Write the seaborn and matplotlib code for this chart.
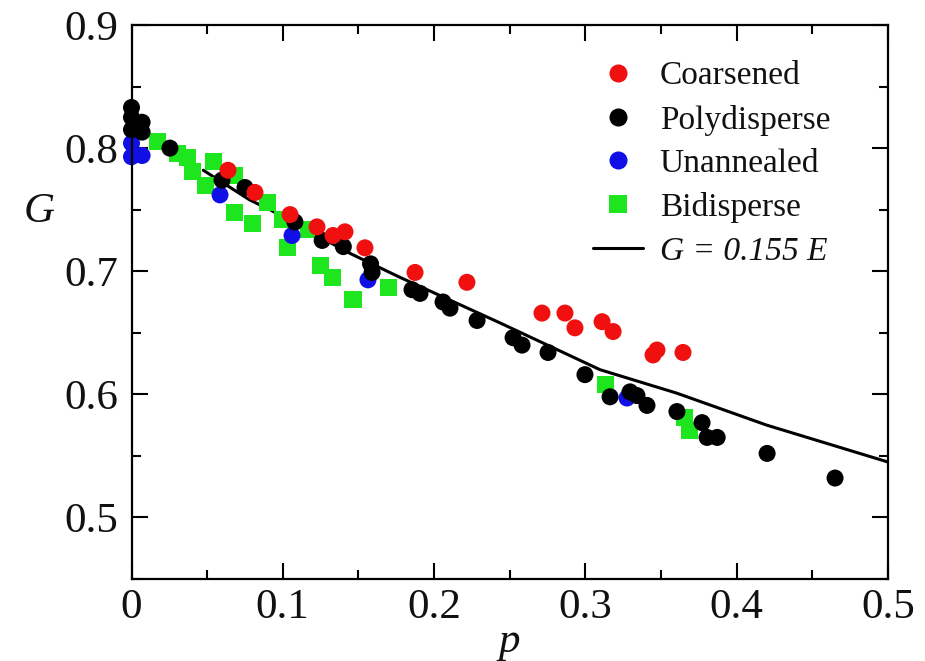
import matplotlib
matplotlib.use("Agg")
import matplotlib.pyplot as plt
import pandas as pd
import seaborn as sns
from matplotlib.lines import Line2D
from matplotlib.ticker import MultipleLocator, FixedLocator, FixedFormatter

# Shear modulus G against porosity p for each packing type
coarsened_p = [0.0638, 0.0816, 0.1048, 0.1226, 0.1332, 0.1411, 0.1543, 0.1874,
               0.2217, 0.2713, 0.2865, 0.2931, 0.3110, 0.3183, 0.3447, 0.3473, 0.3645]
coarsened_g = [0.782, 0.764, 0.746, 0.736, 0.729, 0.732, 0.719, 0.699,
               0.691, 0.666, 0.666, 0.654, 0.659, 0.651, 0.632, 0.636, 0.634]

polydisperse_p = [0.0, 0.0, 0.0, 0.007, 0.007, 0.0254, 0.0598, 0.075, 0.108, 0.126,
                  0.140, 0.158, 0.159, 0.1854, 0.1907, 0.2059, 0.2105, 0.2284, 0.2522,
                  0.2581, 0.2753, 0.2997, 0.3163, 0.3295, 0.3341, 0.3407, 0.3605,
                  0.3771, 0.3804, 0.3871, 0.4201, 0.4650]
polydisperse_g = [0.833, 0.825, 0.815, 0.821, 0.813, 0.800, 0.774, 0.768, 0.740, 0.725,
                  0.720, 0.706, 0.699, 0.685, 0.682, 0.675, 0.670, 0.660, 0.646,
                  0.640, 0.634, 0.616, 0.598, 0.602, 0.599, 0.591, 0.586,
                  0.577, 0.565, 0.565, 0.552, 0.532]

unannealed_p = [0.0, 0.0, 0.007, 0.0585, 0.1061, 0.1563, 0.3275]
unannealed_g = [0.804, 0.793, 0.794, 0.762, 0.729, 0.693, 0.597]

bidisperse_p = [0.0169, 0.0307, 0.0367, 0.0406, 0.0486, 0.0539, 0.0684, 0.0684, 0.0797,
                0.0896, 0.1001, 0.1034, 0.1167, 0.1246, 0.1326, 0.1464, 0.1696,
                0.3130, 0.3658, 0.3691]
bidisperse_g = [0.805, 0.796, 0.792, 0.781, 0.770, 0.789, 0.778, 0.748, 0.739,
                0.756, 0.742, 0.719, 0.734, 0.705, 0.695, 0.677, 0.687,
                0.608, 0.581, 0.571]

# Prediction G = 0.155 E
fit_p = [0.0475, 0.078, 0.0915, 0.1444, 0.1775, 0.2436, 0.3097, 0.3603, 0.4198, 0.4947, 0.5]
fit_g = [0.782, 0.758, 0.750, 0.7145, 0.695, 0.658, 0.620, 0.601, 0.575, 0.547, 0.545]

set_names = ["Coarsened", "Polydisperse", "Unannealed", "Bidisperse"]
set_colors = {"Coarsened": "#f01010", "Polydisperse": "#000000",
              "Unannealed": "#1010e6", "Bidisperse": "#1ee61e"}
set_markers = {"Coarsened": "o", "Polydisperse": "o",
               "Unannealed": "o", "Bidisperse": "s"}
fit_label = "G = 0.155 E"

x_ticks = [0.0, 0.1, 0.2, 0.3, 0.4, 0.5]
x_tick_labels = ["0", "0.1", "0.2", "0.3", "0.4", "0.5"]
y_ticks = [0.5, 0.6, 0.7, 0.8, 0.9]
y_tick_labels = ["0.5", "0.6", "0.7", "0.8", "0.9"]

# draw order: squares first, coarsened circles last (on top)
frames = [
    pd.DataFrame({"p": bidisperse_p, "G": bidisperse_g, "set": "Bidisperse"}),
    pd.DataFrame({"p": unannealed_p, "G": unannealed_g, "set": "Unannealed"}),
    pd.DataFrame({"p": polydisperse_p, "G": polydisperse_g, "set": "Polydisperse"}),
    pd.DataFrame({"p": coarsened_p, "G": coarsened_g, "set": "Coarsened"}),
]
df = pd.concat(frames, ignore_index=True)

sns.set_theme(style="ticks")
plt.rcParams["font.family"] = ["Liberation Serif", "DejaVu Serif"]

W, H = 925, 661
fig = plt.figure(figsize=(W / 100, H / 100), dpi=100)
left, right, top, bottom = 131.5, 888, 25, 579
ax = fig.add_axes([left / W, 1 - bottom / H, (right - left) / W, (bottom - top) / H])

sns.lineplot(x=fit_p, y=fit_g, color="black", linewidth=2.2, sort=False,
             ax=ax, zorder=1)
sns.scatterplot(data=df, x="p", y="G", hue="set", style="set",
                palette=set_colors, markers=set_markers, s=150,
                linewidth=0, legend=False, ax=ax, zorder=2, clip_on=False)

ax.set_xlim(0, 0.5)
ax.set_ylim(0.45, 0.9)

ax.xaxis.set_major_locator(FixedLocator(x_ticks))
ax.xaxis.set_major_formatter(FixedFormatter(x_tick_labels))
ax.yaxis.set_major_locator(FixedLocator(y_ticks))
ax.yaxis.set_major_formatter(FixedFormatter(y_tick_labels))
ax.xaxis.set_minor_locator(MultipleLocator(0.05))
ax.yaxis.set_minor_locator(MultipleLocator(0.05))

ax.tick_params(which="both", direction="in", top=True, right=True,
               width=1.5, color="black", labelcolor="#111111", labelsize=31)
ax.tick_params(which="major", length=11.5)
ax.tick_params(which="minor", length=6.5)
ax.tick_params(axis="x", which="major", pad=7)
ax.tick_params(axis="y", which="major", pad=9.5)

for sp in ax.spines.values():
    sp.set_visible(True)
    sp.set_linewidth(1.6)
    sp.set_color("black")

ax.set_xlabel("p", fontsize=31, fontstyle="italic", color="#111111")
ax.xaxis.set_label_coords(0.5, -0.078)
ax.set_ylabel("G", fontsize=31, fontstyle="italic", rotation=0,
              color="#111111", ha="center", va="center")
ax.yaxis.set_label_coords(-0.122, 0.6625)

handles = [Line2D([], [], ls="none", marker=set_markers[n], color=set_colors[n],
                  markersize=13 if set_markers[n] == "o" else 12.5, mew=0)
           for n in set_names]
handles.append(Line2D([], [], color="black", linewidth=2.2))
leg = ax.legend(handles, set_names + [fit_label], loc="upper left",
                bbox_to_anchor=(593 / W, 1 - 61 / H), bbox_transform=fig.transFigure,
                frameon=False, fontsize=24, handlelength=1.5, handletextpad=0.5,
                labelspacing=0.39, borderpad=0, borderaxespad=0)
for t in leg.get_texts():
    t.set_color("#111111")
leg.get_texts()[-1].set_fontstyle("italic")

fig.savefig("out.png", dpi=100, facecolor="white")
